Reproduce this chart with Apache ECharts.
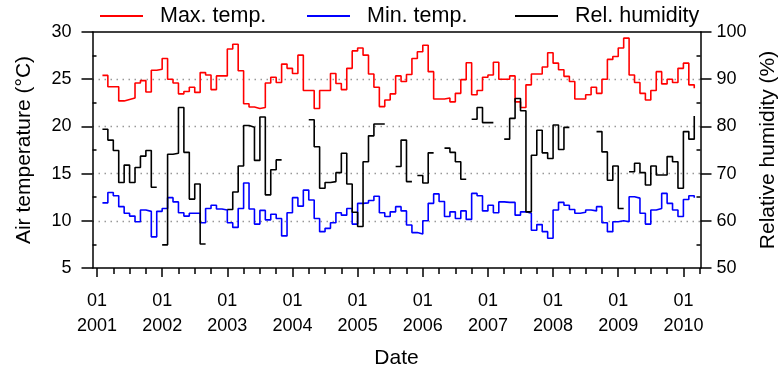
<!DOCTYPE html>
<html>
<head>
<meta charset="utf-8">
<script src="https://cdn.jsdelivr.net/npm/echarts@6/dist/echarts.min.js"></script>
<style>
  html, body { margin: 0; padding: 0; background: #fff; }
  #chart { width: 784px; height: 370px; }
</style>
</head>
<body>
<div id="chart"></div>
<script>
// monthly values, first one is Feb 2001 (month 1 when Jan 2001 = 0)
const firstMonth = 1;

const maxTemp = [
  25.4, 24.2, 24.2, 22.7, 22.85, 23.0, 24.6, 24.85, 23.65, 25.95, 26.05, 27.2,
  25.0, 24.6, 23.45, 23.7, 24.15, 23.6, 25.7, 25.45, 23.9, 25.35, 25.35, 28.2,
  28.7, 25.9, 22.4, 22.05, 21.9, 22.0, 24.6, 25.2, 24.65, 26.6, 26.15, 25.6,
  27.55, 23.8, 23.8, 21.9, 23.8, 23.8, 25.6, 24.55, 23.9, 26.15, 28.0, 28.3,
  27.55, 25.55, 24.15, 22.1, 22.8, 23.45, 25.35, 24.75, 25.5, 27.2, 27.9, 28.6,
  25.8, 22.9, 22.9, 23.0, 22.6, 23.5, 24.95, 26.75, 23.35, 23.8, 25.2, 25.45,
  26.8, 25.0, 25.0, 25.35, 22.6, 22.0, 24.4, 25.55, 25.55, 26.3, 27.8, 26.7,
  26.0, 25.3, 24.75, 22.9, 22.9, 23.35, 24.15, 23.5, 25.0, 27.1, 27.4, 28.3,
  29.35, 25.45, 24.65, 23.5, 22.8, 23.8, 25.8, 24.5, 25.0, 24.65, 26.15, 26.7,
  24.4, 24.05
];

const minTemp = [
  11.9, 13.0, 12.65, 11.5, 10.8, 10.5, 9.9, 11.15, 11.0, 8.3, 11.0, 11.3,
  12.45, 12.0, 10.85, 10.5, 10.8, 10.8, 9.8, 11.3, 11.65, 11.25, 11.15, 9.8,
  9.3, 11.3, 14.0, 11.25, 9.65, 11.1, 10.1, 10.7, 10.25, 8.4, 10.85, 12.45,
  11.55, 13.25, 12.2, 10.25, 8.85, 9.2, 9.8, 10.85, 10.6, 11.3, 9.65, 11.85,
  11.9, 12.15, 12.6, 10.85, 10.45, 10.95, 11.5, 11.05, 9.55, 8.75, 8.6, 10.0,
  11.85, 12.85, 12.05, 10.45, 10.95, 10.25, 11.05, 10.15, 12.9, 12.65, 11.05, 11.65,
  10.85, 12.0, 11.95, 11.95, 10.6, 10.95, 10.8, 9.0, 9.6, 8.85, 8.15, 11.15,
  11.95, 11.65, 11.2, 10.8, 10.9, 11.15, 11.05, 11.5, 9.8, 8.85, 9.9, 10.0,
  9.9, 12.55, 12.4, 10.8, 9.65, 11.15, 11.3, 12.9, 11.85, 11.15, 10.45, 12.25,
  12.65, 12.45
];

// null = missing month
const relHumidity = [
  79.4, 77.1, 74.9, 68.1, 71.8, 68.1, 71.3, 73.7, 74.9, 67.1, null, 54.9,
  74.1, 74.3, 84.0, 74.5, 64.6, 67.8, 55.1, null, null, null, null, 62.4,
  66.1, 71.6, 80.2, 79.8, 72.8, 82.0, 65.5, 70.8, 72.9, null, null, null,
  null, null, 81.4, 75.7, 66.9, 68.1, 68.3, 70.2, 74.3, 67.8, 61.8, 58.8,
  72.5, 78.0, 80.5, 80.5, null, null, 71.5, 77.1, 68.3, null, 69.6, 68.0,
  74.4, null, null, 75.4, 74.5, 72.5, 68.8, null, 81.5, 84.0, 80.8, 80.8,
  null, null, 77.3, 81.7, 85.9, 83.3, 61.9, 73.9, 79.2, 74.4, 73.2, 80.3,
  75.1, 79.8, null, null, null, null, null, 78.9, 74.6, 68.6, 71.6, 62.6,
  null, 70.4, 72.2, 70.2, 67.6, 71.6, 69.7, 69.7, 73.6, 72.5, 66.9, 78.9,
  77.3, 82.2
];

const years = [2001, 2002, 2003, 2004, 2005, 2006, 2007, 2008, 2009, 2010];
const tempTicks = [5, 10, 15, 20, 25, 30];
const humTicks = [50, 60, 70, 80, 90, 100];

const font = "'Liberation Sans', Arial, sans-serif";
const xMin = -0.83;
const xMax = 111.15;

const janTicks = years.map((y, i) => i * 12);
const quarterTicks = [];
for (let m = 3; m <= 111; m += 3) {
  if (m % 12 !== 0) quarterTicks.push(m);
}
const tempMinor = tempTicks.slice(0, -1).map(v => v + 2.5);
const humMinor = humTicks.slice(0, -1).map(v => v + 5);

const toPairs = vals => vals.map((v, i) => [firstMonth + i, v]);

const black = { color: '#000', width: 1.5 };
const frameLine = { show: true, onZero: false, lineStyle: black };
// fixed plot box, no automatic shrinking for labels
const plotBox = { left: 92.5, right: 83.5, top: 32, bottom: 102, containLabel: false, outerBoundsMode: 'none' };
const legendCommon = {
  top: 0,
  icon: 'rect',
  itemWidth: 43,
  itemHeight: 2,
  selectedMode: false,
  textStyle: { fontSize: 21.5, color: '#000', fontFamily: font, padding: [0, 0, 0, 12] }
};
const hidden = {
  axisLine: { show: false, onZero: false },
  axisTick: { show: false },
  axisLabel: { show: false },
  splitLine: { show: false }
};

const chart = echarts.init(document.getElementById('chart'));
chart.setOption({
  animation: false,
  backgroundColor: '#fff',
  textStyle: { fontFamily: font },
  // grid 1 sits on top of grid 0 and only carries the short inner ticks
  grid: [plotBox, plotBox],
  legend: [
    Object.assign({ data: ['Max. temp.'], left: 95 }, legendCommon),
    Object.assign({ data: ['Min. temp.'], left: 302 }, legendCommon),
    Object.assign({ data: ['Rel. humidity'], left: 510 }, legendCommon)
  ],
  xAxis: [
    {
      gridIndex: 0, type: 'value', position: 'bottom', min: xMin, max: xMax, z: 3,
      name: 'Date', nameLocation: 'middle', nameGap: 80,
      nameTextStyle: { fontSize: 21, color: '#000', fontFamily: font },
      axisLine: frameLine,
      axisTick: { show: true, length: 9, customValues: janTicks, lineStyle: black },
      axisLabel: {
        customValues: janTicks, fontSize: 18, color: '#000', fontFamily: font,
        lineHeight: 25, margin: 21,
        formatter: v => '01\n' + years[Math.round(v / 12)]
      },
      splitLine: { show: false }
    },
    Object.assign({}, hidden, {
      gridIndex: 0, type: 'value', position: 'top', min: xMin, max: xMax, z: 3,
      axisLine: frameLine
    }),
    Object.assign({}, hidden, {
      gridIndex: 1, type: 'value', position: 'bottom', min: xMin, max: xMax, z: 3,
      axisTick: { show: true, length: 6, customValues: quarterTicks, lineStyle: black }
    })
  ],
  yAxis: [
    {
      gridIndex: 0, type: 'value', position: 'left', min: 5, max: 30, interval: 5,
      name: 'Air temperature (\u00B0C)', nameLocation: 'middle', nameRotate: 90, nameGap: 58,
      nameTextStyle: { fontSize: 21, color: '#000', fontFamily: font },
      axisLine: frameLine,
      axisTick: { show: true, length: 11, lineStyle: black },
      axisLabel: { fontSize: 18, color: '#000', fontFamily: font, margin: 21 },
      splitLine: {
        show: true, showMinLine: false, showMaxLine: false,
        lineStyle: { color: '#999', width: 1.3, type: [1.5, 4.5] }
      }
    },
    {
      gridIndex: 0, type: 'value', position: 'right', min: 50, max: 100, interval: 10,
      name: 'Relative humidity (%)', nameLocation: 'middle', nameRotate: 90, nameGap: 56,
      nameTextStyle: { fontSize: 21, color: '#000', fontFamily: font },
      axisLine: frameLine,
      axisTick: { show: true, length: 11, lineStyle: black },
      axisLabel: { fontSize: 18, color: '#000', fontFamily: font, margin: 16 },
      splitLine: { show: false }
    },
    Object.assign({}, hidden, {
      gridIndex: 1, type: 'value', position: 'left', min: 5, max: 30,
      axisTick: { show: true, inside: true, length: 4, customValues: tempMinor, lineStyle: black }
    }),
    Object.assign({}, hidden, {
      gridIndex: 1, type: 'value', position: 'right', min: 50, max: 100,
      axisTick: { show: true, inside: true, length: 4, customValues: humMinor, lineStyle: black }
    })
  ],
  series: [
    {
      name: 'Max. temp.', type: 'line', step: 'end', symbol: 'none',
      xAxisIndex: 0, yAxisIndex: 0, data: toPairs(maxTemp),
      itemStyle: { color: '#ff0000' }, lineStyle: { color: '#ff0000', width: 1.6 }
    },
    {
      name: 'Min. temp.', type: 'line', step: 'end', symbol: 'none',
      xAxisIndex: 0, yAxisIndex: 0, data: toPairs(minTemp),
      itemStyle: { color: '#0000ff' }, lineStyle: { color: '#0000ff', width: 1.6 }
    },
    {
      name: 'Rel. humidity', type: 'line', step: 'end', symbol: 'none', connectNulls: false,
      xAxisIndex: 0, yAxisIndex: 1, data: toPairs(relHumidity),
      itemStyle: { color: '#000' }, lineStyle: { color: '#000', width: 1.6 }
    }
  ]
});
</script>
</body>
</html>
